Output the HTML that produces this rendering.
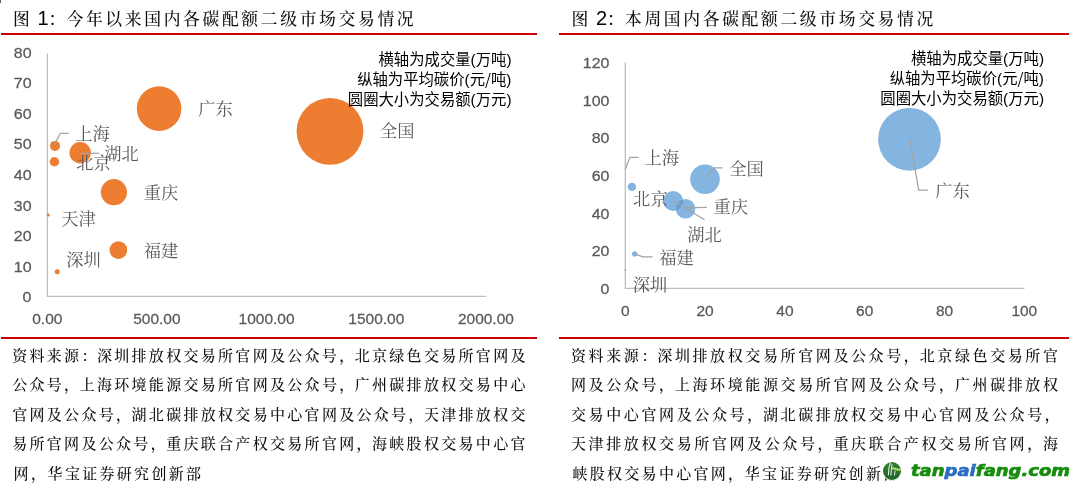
<!DOCTYPE html>
<html lang="zh-CN">
<head>
<meta charset="utf-8">
<title>国内各碳配额二级市场交易情况</title>
<style>
html,body{margin:0;padding:0;background:#fff;}
body{width:1080px;height:491px;position:relative;overflow:hidden;font-family:"Liberation Serif", "Noto Serif CJK SC", serif;}
.tick{position:absolute;left:0;top:0;width:1px;height:3px;background:#666;}
.title{position:absolute;top:4.9px;font-weight:500;height:26px;line-height:26px;font-size:16.8px;letter-spacing:2.65px;word-spacing:-2px;color:#111;white-space:nowrap;font-family:"Liberation Serif", "Noto Serif CJK SC", serif;}
.title b{font-family:"Liberation Sans",sans-serif;font-weight:normal;font-size:20px;letter-spacing:0;color:#000;}
.t1{left:13.1px;} .t2{left:571.6px;}
.title .c{letter-spacing:1.2px;}
.rule{position:absolute;height:2.2px;background:#cc0000;}
svg{position:absolute;left:0;top:0;}
svg text.n{font-family:"Liberation Sans", sans-serif;font-size:15.2px;fill:#595959;stroke:#595959;stroke-width:0.25px;}
svg text.l{font-family:"Liberation Serif", "Noto Serif CJK SC", serif;font-size:17.3px;fill:#595959;}
svg text.a .sl{font-family:"Noto Sans CJK SC",sans-serif;}
svg text.a{font-family:"Liberation Sans", "Noto Sans CJK SC", sans-serif;font-size:15.35px;fill:#000;}
.src{position:absolute;top:341.5px;font-size:15px;font-weight:500;color:#111;line-height:29.65px;}
.src .sl{white-space:nowrap;text-align:justify;text-align-last:justify;height:29.65px;}
.src .sl.last{text-align-last:left;letter-spacing:2.3px;padding-left:1.4px;}
.src .p{margin-right:-1.8px;}
.src .last .p{margin-right:-0.6px;}
.s1{left:12.2px;width:513.3px;} .s2{left:571px;width:487px;}
.wm{position:absolute;left:0;top:0;white-space:nowrap;}
.wm .logo{position:absolute;left:880px;top:458.7px;}
.wm .txt{position:absolute;left:911px;top:457.1px;font-family:"DejaVu Sans",sans-serif;font-weight:bold;font-style:italic;font-size:15px;line-height:28px;height:28px;color:#168c0c;-webkit-text-stroke:0.65px #168c0c;transform-origin:0 50%;transform:scaleX(1.2);letter-spacing:0;}
.wm .txt i{color:#2b6cc4;-webkit-text-stroke:0.65px #2b6cc4;font-style:italic;}
</style>
</head>
<body>
<div class="tick"></div>
<div class="title t1">图 <b>1</b><span class="c">：</span>今年以来国内各碳配额二级市场交易情况</div>
<div class="title t2">图 <b>2</b><span class="c">：</span>本周国内各碳配额二级市场交易情况</div>
<div class="rule" style="left:1px;top:33px;width:535.5px;"></div>
<div class="rule" style="left:559px;top:33px;width:510.3px;"></div>
<div class="rule" style="left:1px;top:337px;width:535.5px;"></div>
<div class="rule" style="left:559px;top:337px;width:510.3px;"></div>
<svg width="1080" height="491" viewBox="0 0 1080 491">
<polyline points="47.4,53.5 47.4,296.4 486,296.4" fill="none" stroke="#bdbdbd" stroke-width="1.3"/>
<text transform="translate(31.5,57.8) scale(1.05,1)" class="n" text-anchor="end">80</text>
<text transform="translate(31.5,88.4) scale(1.05,1)" class="n" text-anchor="end">70</text>
<text transform="translate(31.5,118.9) scale(1.05,1)" class="n" text-anchor="end">60</text>
<text transform="translate(31.5,149.4) scale(1.05,1)" class="n" text-anchor="end">50</text>
<text transform="translate(31.5,180.0) scale(1.05,1)" class="n" text-anchor="end">40</text>
<text transform="translate(31.5,210.5) scale(1.05,1)" class="n" text-anchor="end">30</text>
<text transform="translate(31.5,241.1) scale(1.05,1)" class="n" text-anchor="end">20</text>
<text transform="translate(31.5,271.6) scale(1.05,1)" class="n" text-anchor="end">10</text>
<text transform="translate(31.5,302.2) scale(1.05,1)" class="n" text-anchor="end">0</text>
<text transform="translate(47.3,324.3) scale(1.02,1)" class="n" text-anchor="middle">0.00</text>
<text transform="translate(156.9,324.3) scale(1.02,1)" class="n" text-anchor="middle">500.00</text>
<text transform="translate(266.6,324.3) scale(1.02,1)" class="n" text-anchor="middle">1000.00</text>
<text transform="translate(376.3,324.3) scale(1.02,1)" class="n" text-anchor="middle">1500.00</text>
<text transform="translate(485.9,324.3) scale(1.02,1)" class="n" text-anchor="middle">2000.00</text>
<circle cx="330" cy="131.3" r="33.4" fill="#ED7D31"/>
<circle cx="159.1" cy="108.6" r="22.3" fill="#ED7D31"/>
<circle cx="113.9" cy="192.2" r="13.1" fill="#ED7D31"/>
<circle cx="118.4" cy="250.1" r="8.85" fill="#ED7D31"/>
<circle cx="80.2" cy="152.7" r="10.7" fill="#ED7D31"/>
<circle cx="55.0" cy="145.9" r="5.0" fill="#ED7D31"/>
<circle cx="54.4" cy="161.8" r="4.7" fill="#ED7D31"/>
<circle cx="48.3" cy="215" r="1.5" fill="#ED7D31"/>
<circle cx="57.2" cy="271.7" r="2.5" fill="#ED7D31"/>
<polyline points="54.2,145 60.3,133.3 68.7,133.3" fill="none" stroke="#a3a3a3" stroke-width="1.25"/>
<polyline points="80.5,153.3 99.2,153.3" fill="none" stroke="#a3a3a3" stroke-width="1.25"/>
<text x="75.3" y="139.7" class="l" text-anchor="start">上海</text>
<text x="104.2" y="160.3" class="l" text-anchor="start">湖北</text>
<text x="76.2" y="168.9" class="l" text-anchor="start">北京</text>
<text x="143.7" y="198.9" class="l" text-anchor="start">重庆</text>
<text x="61.2" y="224.7" class="l" text-anchor="start">天津</text>
<text x="66.2" y="266.2" class="l" text-anchor="start">深圳</text>
<text x="143.7" y="257.2" class="l" text-anchor="start">福建</text>
<text x="379.9" y="137.0" class="l" text-anchor="start">全国</text>
<text x="198.3" y="115.2" class="l" text-anchor="start">广东</text>
<text x="511.5" y="64.5" class="a" text-anchor="end">横轴为成交量(万吨)</text>
<text x="511.5" y="84.6" class="a" text-anchor="end">纵轴为平均碳价(元<tspan class="sl">/</tspan>吨)</text>
<text x="511.5" y="104.7" class="a" text-anchor="end">圆圈大小为交易额(万元)</text>
<polyline points="625.3,62.5 625.3,288.3 1024.5,288.3" fill="none" stroke="#bdbdbd" stroke-width="1.3"/>
<text transform="translate(609.4,67.9) scale(1.05,1)" class="n" text-anchor="end">120</text>
<text transform="translate(609.4,105.6) scale(1.05,1)" class="n" text-anchor="end">100</text>
<text transform="translate(609.4,143.3) scale(1.05,1)" class="n" text-anchor="end">80</text>
<text transform="translate(609.4,181.0) scale(1.05,1)" class="n" text-anchor="end">60</text>
<text transform="translate(609.4,218.7) scale(1.05,1)" class="n" text-anchor="end">40</text>
<text transform="translate(609.4,256.4) scale(1.05,1)" class="n" text-anchor="end">20</text>
<text transform="translate(609.4,294.1) scale(1.05,1)" class="n" text-anchor="end">0</text>
<text transform="translate(625.3,316.4) scale(1.02,1)" class="n" text-anchor="middle">0</text>
<text transform="translate(705.1,316.4) scale(1.02,1)" class="n" text-anchor="middle">20</text>
<text transform="translate(784.9,316.4) scale(1.02,1)" class="n" text-anchor="middle">40</text>
<text transform="translate(864.7,316.4) scale(1.02,1)" class="n" text-anchor="middle">60</text>
<text transform="translate(944.5,316.4) scale(1.02,1)" class="n" text-anchor="middle">80</text>
<text transform="translate(1024.3,316.4) scale(1.02,1)" class="n" text-anchor="middle">100</text>
<circle cx="909.5" cy="139.3" r="31.4" fill="#5B9BD5" fill-opacity="0.75"/>
<circle cx="705.0" cy="179.2" r="14.8" fill="#5B9BD5" fill-opacity="0.75"/>
<circle cx="673.2" cy="201" r="10.0" fill="#5B9BD5" fill-opacity="0.75"/>
<circle cx="685.5" cy="208.8" r="9.8" fill="#5B9BD5" fill-opacity="0.75"/>
<circle cx="631.9" cy="186.9" r="4.2" fill="#5B9BD5" fill-opacity="0.75"/>
<circle cx="634.7" cy="253.9" r="2.7" fill="#5B9BD5" fill-opacity="0.75"/>
<circle cx="625.4" cy="270.2" r="0.9" fill="#5B9BD5" fill-opacity="0.75"/>
<polyline points="625.2,169.4 629.9,157.3 638.4,157.3" fill="none" stroke="#a3a3a3" stroke-width="1.25"/>
<polyline points="704.5,178.4 714.6,167.8 722.5,167.8" fill="none" stroke="#a3a3a3" stroke-width="1.25"/>
<polyline points="685.1,207.9 706.9,207.3" fill="none" stroke="#a3a3a3" stroke-width="1.25"/>
<polyline points="673.2,200.8 704.6,219.8" fill="none" stroke="#a3a3a3" stroke-width="1.25"/>
<polyline points="634.7,253.9 643,256.8 652.6,256.8" fill="none" stroke="#a3a3a3" stroke-width="1.25"/>
<polyline points="909.9,139.4 918.7,190.2 927.9,190.2" fill="none" stroke="#a3a3a3" stroke-width="1.25"/>
<text x="644.5" y="164.0" class="l" text-anchor="start">上海</text>
<text x="729.2" y="174.5" class="l" text-anchor="start">全国</text>
<text x="633.1" y="204.6" class="l" text-anchor="start">北京</text>
<text x="713.5" y="213.3" class="l" text-anchor="start">重庆</text>
<text x="687.3" y="240.9" class="l" text-anchor="start">湖北</text>
<text x="659.3" y="264.2" class="l" text-anchor="start">福建</text>
<text x="632.7" y="290.6" class="l" text-anchor="start">深圳</text>
<text x="935.2" y="196.7" class="l" text-anchor="start">广东</text>
<text x="1044" y="64.2" class="a" text-anchor="end">横轴为成交量(万吨)</text>
<text x="1044" y="84.3" class="a" text-anchor="end">纵轴为平均碳价(元<tspan class="sl">/</tspan>吨)</text>
<text x="1044" y="104.4" class="a" text-anchor="end">圆圈大小为交易额(万元)</text>
</svg>
<div class="src s1"><div class="sl">资料来源<span class="p">：</span>深圳排放权交易所官网及公众号<span class="p">，</span>北京绿色交易所官网及</div>
<div class="sl">公众号<span class="p">，</span>上海环境能源交易所官网及公众号<span class="p">，</span>广州碳排放权交易中心</div>
<div class="sl">官网及公众号<span class="p">，</span>湖北碳排放权交易中心官网及公众号<span class="p">，</span>天津排放权交</div>
<div class="sl">易所官网及公众号<span class="p">，</span>重庆联合产权交易所官网<span class="p">，</span>海峡股权交易中心官</div>
<div class="sl last">网<span class="p">，</span>华宝证券研究创新部</div></div>
<div class="src s2"><div class="sl">资料来源<span class="p">：</span>深圳排放权交易所官网及公众号<span class="p">，</span>北京绿色交易所官</div>
<div class="sl">网及公众号<span class="p">，</span>上海环境能源交易所官网及公众号<span class="p">，</span>广州碳排放权</div>
<div class="sl">交易中心官网及公众号<span class="p">，</span>湖北碳排放权交易中心官网及公众号<span class="p">，</span></div>
<div class="sl">天津排放权交易所官网及公众号<span class="p">，</span>重庆联合产权交易所官网<span class="p">，</span>海</div>
<div class="sl last">峡股权交易中心官网<span class="p">，</span>华宝证券研究创新部</div></div>
<div class="wm">
<svg class="logo" width="24" height="24" viewBox="-2 -2 24 24">
<defs><linearGradient id="lg" x1="0" y1="0" x2="0" y2="1"><stop offset="0" stop-color="#2f7f33"/><stop offset="1" stop-color="#1f6526"/></linearGradient></defs>
<circle cx="10" cy="10" r="9.9" fill="#fffef2" fill-opacity="0.9"/>
<circle cx="10" cy="10" r="9" fill="url(#lg)"/>
<path d="M8.5 1.4 Q6.2 7 6.4 14.3" stroke="#fff" stroke-width="1.1" fill="none" stroke-opacity="0.9"/>
<path d="M10.1 3 Q9.1 9 8.9 14.4" stroke="#fff" stroke-width="1" fill="none" stroke-opacity="0.9"/>
<path d="M13.1 9.6 L12.4 14.6" stroke="#fff" stroke-width="1" fill="none" stroke-opacity="0.85"/>
<path d="M9.2 7.4 Q12 5.9 14.6 7.6 Q17 8.9 18.8 7.2 L18.9 9.4 Q16.6 10.8 14 9.3 Q11.6 8 9.2 9.2 Z" fill="#9bd14a"/>
<path d="M9.2 7.4 Q12 5.9 14.6 7.6 Q17 8.9 18.8 7.2" stroke="#f4ffd8" stroke-width="0.6" fill="none"/>
</svg>
<span class="txt">tan<i>pai</i>fang.com</span>
</div>
</body>
</html>
